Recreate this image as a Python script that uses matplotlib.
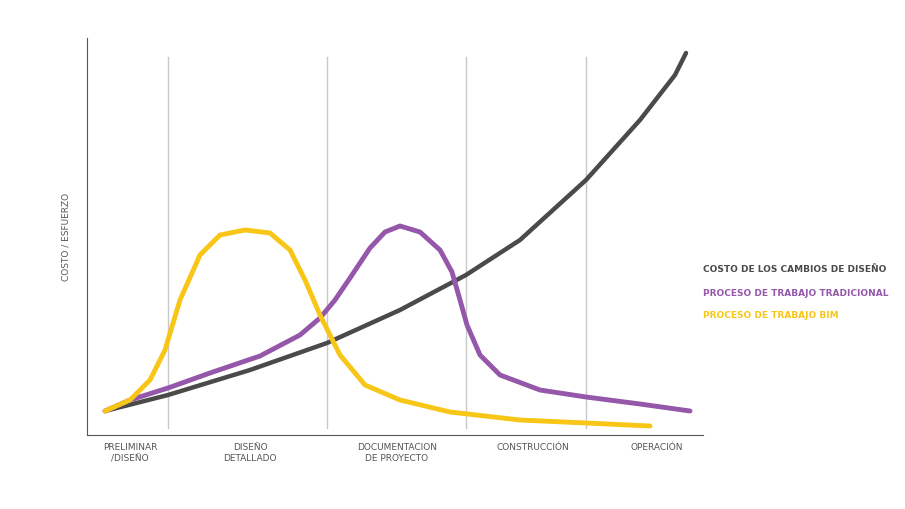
import numpy as np
import matplotlib.pyplot as plt

# values (x in phase units, y in picture px, inverted axis)
phases = ["PRELIMINAR\n/DISEÑO", "DISEÑO\nDETALLADO", "DOCUMENTACION\nDE PROYECTO", "CONSTRUCCIÓN", "OPERACIÓN"]
phase_x = [130, 250, 397, 533, 657]
grid_x = [168, 327, 466, 586]

cost_x = [105, 168, 250, 327, 400, 466, 520, 586, 640, 675, 686]
cost_y = [411, 395, 370, 343, 310, 275, 240, 180, 120, 75, 53]

trad_x = [105, 130, 168, 210, 260, 300, 320, 335, 350, 370, 385, 400, 420, 440, 452, 460, 467, 480, 500, 540, 586, 640, 690]
trad_y = [411, 400, 388, 373, 356, 335, 318, 300, 278, 248, 232, 226, 232, 250, 272, 300, 325, 355, 375, 390, 397, 404, 411]

bim_x = [105, 130, 150, 165, 180, 200, 220, 245, 270, 290, 305, 320, 340, 365, 400, 450, 520, 586, 650]
bim_y = [411, 400, 380, 350, 300, 255, 235, 230, 233, 250, 280, 315, 355, 385, 400, 412, 420, 423, 426]

c_cost = "#4a4a4a"
c_trad = "#9457aa"
c_bim = "#f7c617"

fig = plt.figure(figsize=(9.05, 5.09), dpi=100)
ax = fig.add_axes([87 / 905, 1 - 435 / 509, 616 / 905, 397 / 509])
ax.set_xlim(87, 703)
ax.set_ylim(435, 38)

for gx in grid_x:
    ax.plot([gx, gx], [428, 57], color="#c8c8c8", lw=1, zorder=1)

ax.plot(cost_x, cost_y, color=c_cost, lw=3.2, solid_capstyle="round", solid_joinstyle="round", zorder=3)
ax.plot(trad_x, trad_y, color=c_trad, lw=3.5, solid_capstyle="round", solid_joinstyle="round", zorder=4)
ax.plot(bim_x, bim_y, color=c_bim, lw=3.5, solid_capstyle="round", solid_joinstyle="round", zorder=5)

for s in ["top", "right"]:
    ax.spines[s].set_visible(False)
ax.spines["left"].set_color("#555555")
ax.spines["bottom"].set_color("#555555")
ax.set_xticks(phase_x)
ax.set_xticklabels(phases, fontsize=6.5, color="#555555", linespacing=1.3)
ax.tick_params(axis="x", length=0, pad=6)
ax.set_yticks([])
ax.set_ylabel("COSTO / ESFUERZO", fontsize=6.5, color="#555555", labelpad=12)

legend = [("COSTO DE LOS CAMBIOS DE DISEÑO", c_cost), ("PROCESO DE TRABAJO TRADICIONAL", c_trad), ("PROCESO DE TRABAJO BIM", c_bim)]
for i, (t, c) in enumerate(legend):
    fig.text(703 / 905, 1 - (270 + 23 * i) / 509, t, color=c, fontsize=6.5, fontweight="bold", va="center")

fig.savefig("out.png", dpi=100)
